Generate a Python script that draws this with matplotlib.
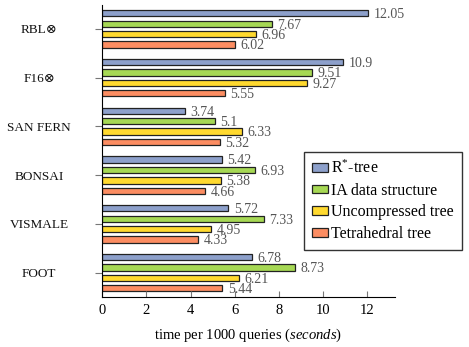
import matplotlib.pyplot as plt
import numpy as np

plt.rcParams["font.family"] = ["Liberation Serif", "DejaVu Serif"]
plt.rcParams["mathtext.fontset"] = "custom"
plt.rcParams["mathtext.rm"] = "Liberation Serif"
plt.rcParams["mathtext.it"] = "Liberation Serif:italic"

datasets = ["RBL⊗", "F16⊗", "SAN FERN", "BONSAI", "VISMALE", "FOOT"]
series_names = ["R$^{*}$-tree", "IA data structure", "Uncompressed tree", "Tetrahedral tree"]
rstar = [12.05, 10.9, 3.74, 5.42, 5.72, 6.78]
ia_struct = [7.67, 9.51, 5.1, 6.93, 7.33, 8.73]
uncompressed = [6.96, 9.27, 6.33, 5.38, 4.95, 6.21]
tetra = [6.02, 5.55, 5.32, 4.66, 4.33, 5.44]
x_ticks = [0, 2, 4, 6, 8, 10, 12]

colors = ["#8da0cb", "#a6d854", "#ffd92f", "#fc8d62"]
all_series = [rstar, ia_struct, uncompressed, tetra]

fig = plt.figure(figsize=(4.69, 3.47), dpi=100)
ax = fig.add_axes([0.218, 0.144, 0.624, 0.843])

pos = np.arange(len(datasets))
step = 0.213
height = 0.13
for i, (vals, name, col) in enumerate(zip(all_series, series_names, colors)):
    y = pos + (i - 1.5) * step
    ax.barh(y, vals, height=height, color=col, edgecolor="#222222",
            linewidth=0.9, label=name)
    for yy, v in zip(y, vals):
        ax.annotate(f"{v:g}", (v, yy), xytext=(4, -1), textcoords="offset points",
                    va="center", ha="left", fontsize=10, color="#555555")

ax.set_ylim(5.5, -0.5)
ax.set_xlim(0, 13.26)
ax.set_yticks(pos)
ax.set_yticklabels(datasets, fontsize=9.5, color="#111111")
ax.set_xticks(x_ticks)
ax.tick_params(axis="x", direction="in", length=4, color="#777777", labelsize=10.5, pad=5)
ax.tick_params(axis="y", direction="out", length=5, color="#777777")
# centre the dataset names in the left margin
for lab in ax.get_yticklabels():
    lab.set_horizontalalignment("center")
    lab.set_x(-0.175)

ax.spines["top"].set_visible(False)
ax.spines["right"].set_visible(False)
ax.set_xlabel(r"time per 1000 queries ($\mathit{seconds}$)", fontsize=10.5, labelpad=7)

ax.legend(loc="upper left", bbox_to_anchor=(304 / 469, 1 - 152 / 347),
          bbox_transform=fig.transFigure, fontsize=11.5, frameon=True,
          fancybox=False, edgecolor="#333333", framealpha=1,
          handlelength=1.0, handleheight=0.45, handletextpad=0.2,
          borderpad=0.5, labelspacing=0.35, borderaxespad=0)

fig.savefig("out.png", dpi=100)
